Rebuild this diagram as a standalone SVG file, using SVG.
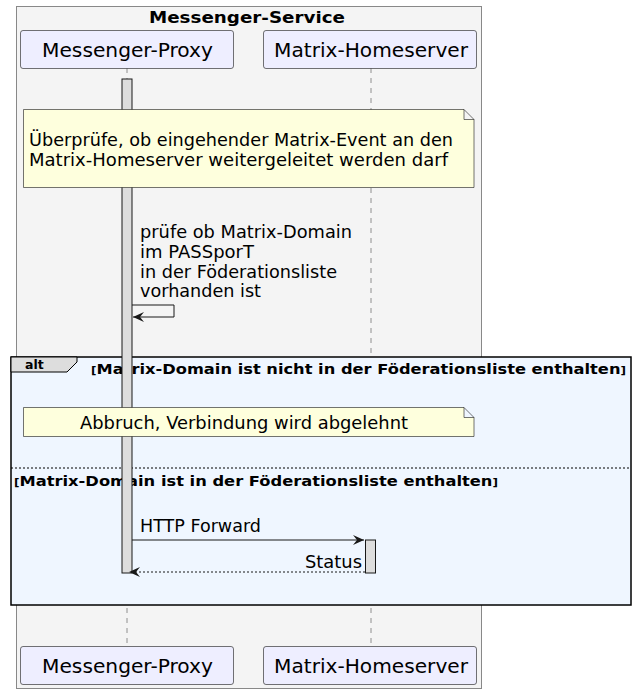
<svg xmlns="http://www.w3.org/2000/svg" width="637" height="694" viewBox="0 0 637 694">
<style>
text{font-family:"DejaVu Sans","Liberation Sans",sans-serif;fill:#000}
.part rect{fill:#EEEEFF;stroke:#181818;stroke-width:0.6}
.part text{font-size:19.5px}
.life{stroke:#777;stroke-width:0.8;stroke-dasharray:5,5}
.act{fill:#DDDDDD;stroke:#181818;stroke-width:1}
.note path{fill:#FEFFDD;stroke:#181818;stroke-width:0.6}
.note text{font-size:17px}
.msg{font-size:17px}
.guard{font-size:13.5px;font-weight:bold}
</style>
<defs>
<marker id="arr" viewBox="0 0 12 10" refX="11" refY="5" markerWidth="12" markerHeight="10" markerUnits="userSpaceOnUse" orient="auto">
<path d="M0,0 L11,5 L0,10 L4,5 Z" fill="#181818"/>
</marker>
</defs>
<g id="box">
<rect x="16.5" y="6.5" width="465" height="682" fill="#F4F4F4" stroke="#888" stroke-width="1"/>
<text x="149" y="23" font-size="15" font-weight="bold" textLength="196" lengthAdjust="spacingAndGlyphs">Messenger-Service</text>
</g>
<g id="lifelines">
<line class="life" x1="127" y1="68" x2="127" y2="646"/>
<line class="life" x1="371" y1="68" x2="371" y2="646"/>
</g>
<g id="alt">
<rect x="11" y="357" width="620" height="248" fill="#EFF6FF" stroke="#000" stroke-width="1.5"/>
<path d="M11,357 L77,357 L77,362 L67,372 L11,372 Z" fill="#DDDDDD" stroke="#000" stroke-width="1"/>
<text x="25" y="369" font-size="12.5" font-weight="bold">alt</text>
<text class="guard" x="91" y="374" textLength="535" lengthAdjust="spacingAndGlyphs"><tspan font-size="10">[</tspan>Matrix-Domain ist nicht in der Föderationsliste enthalten<tspan font-size="10">]</tspan></text>
<line x1="11" y1="468" x2="631" y2="468" stroke="#000" stroke-width="1" stroke-dasharray="2,2"/>
<text class="guard" x="14" y="486" textLength="484" lengthAdjust="spacingAndGlyphs"><tspan font-size="10">[</tspan>Matrix-Domain ist in der Föderationsliste enthalten<tspan font-size="10">]</tspan></text>
</g>
<g id="activations">
<rect class="act" x="122" y="79" width="10" height="494"/>
<rect class="act" x="365.5" y="540" width="10" height="33"/>
</g>
<g id="participant-proxy-top" class="part">
<rect x="20.5" y="30.5" width="213" height="38" rx="2.5"/>
<text x="42" y="57" textLength="171" lengthAdjust="spacingAndGlyphs">Messenger-Proxy</text>
</g>
<g id="participant-hs-top" class="part">
<rect x="263.5" y="30.5" width="213" height="38" rx="2.5"/>
<text x="274" y="57" textLength="194" lengthAdjust="spacingAndGlyphs">Matrix-Homeserver</text>
</g>
<g id="participant-proxy-bottom" class="part">
<rect x="20.5" y="646.5" width="213" height="38" rx="2.5"/>
<text x="42" y="673" textLength="171" lengthAdjust="spacingAndGlyphs">Messenger-Proxy</text>
</g>
<g id="participant-hs-bottom" class="part">
<rect x="263.5" y="646.5" width="213" height="38" rx="2.5"/>
<text x="274" y="673" textLength="194" lengthAdjust="spacingAndGlyphs">Matrix-Homeserver</text>
</g>
<g id="note1" class="note">
<path d="M23.5,109.5 L464,109.5 L474,119.5 L474,187.5 L23.5,187.5 Z M464,109.5 L464,119.5 L474,119.5"/>
<text x="29" y="146" textLength="424" lengthAdjust="spacingAndGlyphs">Überprüfe, ob eingehender Matrix-Event an den</text>
<text x="29" y="166" textLength="419" lengthAdjust="spacingAndGlyphs">Matrix-Homeserver weitergeleitet werden darf</text>
</g>
<g id="note2" class="note">
<path d="M23.5,407.5 L464,407.5 L474,417.5 L474,436.5 L23.5,436.5 Z M464,407.5 L464,417.5 L474,417.5"/>
<text x="80" y="429" textLength="328" lengthAdjust="spacingAndGlyphs">Abbruch, Verbindung wird abgelehnt</text>
</g>
<g id="connectors">
<path d="M132,305 L174,305 L174,317 L133,317" fill="none" stroke="#181818" stroke-width="1" marker-end="url(#arr)"/>
<line x1="132" y1="540" x2="364" y2="540" stroke="#181818" stroke-width="1" marker-end="url(#arr)"/>
<line x1="365" y1="572" x2="129" y2="572" stroke="#181818" stroke-width="1" stroke-dasharray="2,2" marker-end="url(#arr)"/>
</g>
<g id="labels">
<text class="msg" x="140" y="238" textLength="212" lengthAdjust="spacingAndGlyphs">prüfe ob Matrix-Domain</text>
<text class="msg" x="140" y="258" textLength="114" lengthAdjust="spacingAndGlyphs">im PASSporT</text>
<text class="msg" x="140" y="278" textLength="197" lengthAdjust="spacingAndGlyphs">in der Föderationsliste</text>
<text class="msg" x="140" y="297" textLength="121" lengthAdjust="spacingAndGlyphs">vorhanden ist</text>
<text class="msg" x="140" y="532" textLength="121" lengthAdjust="spacingAndGlyphs">HTTP Forward</text>
<text class="msg" x="305" y="568" textLength="57" lengthAdjust="spacingAndGlyphs">Status</text>
</g>
</svg>
